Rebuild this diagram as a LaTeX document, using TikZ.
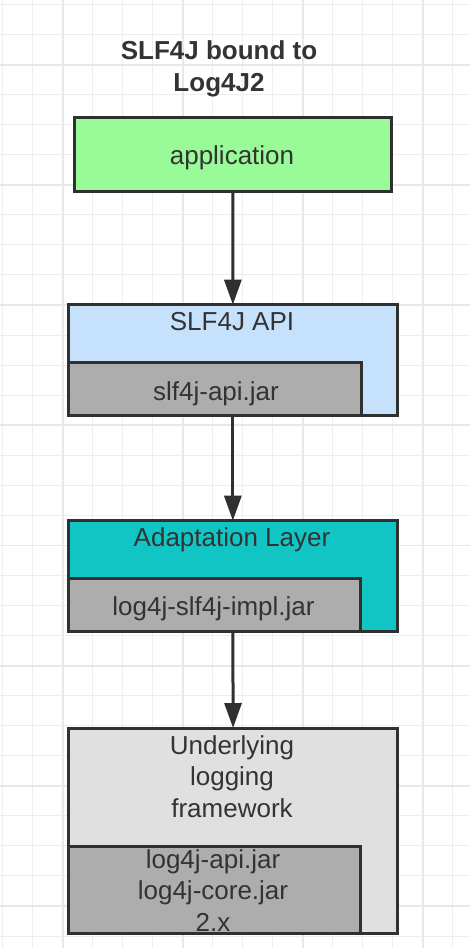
\documentclass[tikz,border=0pt]{standalone}
\usepackage{fontspec}
\setmainfont{Liberation Sans}
\usetikzlibrary{arrows.meta}
\definecolor{linecol}{HTML}{303030}
\definecolor{txtcol}{HTML}{333333}
\definecolor{gridthin}{HTML}{EEEEEE}
\definecolor{gridthick}{HTML}{E8E8E8}
\definecolor{appgreen}{HTML}{98FB98}
\definecolor{apiblue}{HTML}{C5E1FB}
\definecolor{adaptteal}{HTML}{12C5C5}
\definecolor{undergrey}{HTML}{E0E0E0}
\definecolor{jargrey}{HTML}{ADADAD}

\begin{document}
\begin{tikzpicture}[x=1pt,y=-1pt,
   box/.style={draw=linecol,line width=3pt,rectangle,inner sep=0pt,outer sep=0pt,anchor=north west},
   txt/.style={text=txtcol,font=\fontsize{26}{31.6}\selectfont,align=center,inner sep=0pt,anchor=base},
   arr/.style={draw=linecol,line width=3pt,-{Triangle[length=25pt,width=17pt]}},
   gthin/.style={draw=gridthin,line width=1pt},
   gthick/.style={draw=gridthick,line width=1.8pt}]
   \useasboundingbox (0,0) rectangle (470,948);

   % grid
   \foreach \k in {0,...,15} \draw[gthin] (2.7+30*\k,0) -- (2.7+30*\k,948);
   \foreach \k in {0,...,31} \draw[gthin] (0,4.5+30.05*\k) -- (470,4.5+30.05*\k);
   \foreach \k in {2,6,10,14} \draw[gthick] (2.7+30*\k,0) -- (2.7+30*\k,948);
   \foreach \k in {2,6,10,14,18,22,26,30} \draw[gthick] (0,4.5+30.05*\k) -- (470,4.5+30.05*\k);

   % base of a multi-line node = last line
   \node[txt,font=\fontsize{26}{31.7}\selectfont\bfseries] (title) at (219,91) {SLF4J bound to\\Log4J2};

   \node[box,fill=appgreen,minimum width=316.8pt,minimum height=74pt] (app) at (74.5,117) {};
   \node[box,fill=apiblue,minimum width=328.3pt,minimum height=111pt] (api) at (68.7,304.7) {};
   \node[box,fill=jargrey,minimum width=292.6pt,minimum height=53.7pt] (apijar) at (68.7,362) {};
   \node[box,fill=adaptteal,minimum width=328.3pt,minimum height=110.3pt] (adapt) at (68.7,520.7) {};
   \node[box,fill=jargrey,minimum width=291.3pt,minimum height=53pt] (adaptjar) at (68.7,578) {};
   \node[box,fill=undergrey,minimum width=329pt,minimum height=205.7pt] (under) at (68.7,728) {};
   \node[box,fill=jargrey,minimum width=291.6pt,minimum height=87.4pt] (underjar) at (68.7,846.3) {};

   \node[txt] (apptxt) at (232,164) {application};
   \node[txt] (apitxt) at (232,330.7) {SLF4J API};
   \node[txt] (apijartxt) at (216,400) {slf4j-api.jar};
   \node[txt] (adapttxt) at (232,546.7) {Adaptation Layer};
   \node[txt] (adaptjartxt) at (213.5,615) {log4j-slf4j-impl.jar};
   \node[txt] (undertxt) at (232,817.3) {Underlying\\logging\\framework};
   \node[txt] (underjartxt) at (213,931.5) {log4j-api.jar\\log4j-core.jar\\2.x};
   \draw[draw=linecol,line width=3pt] (under.south west) -- (under.south east);

   \draw[arr] (app) -- (api);
   \draw[arr] (api) -- (adapt);
   \draw[arr] (adapt) -- (under);
\end{tikzpicture}
\end{document}
